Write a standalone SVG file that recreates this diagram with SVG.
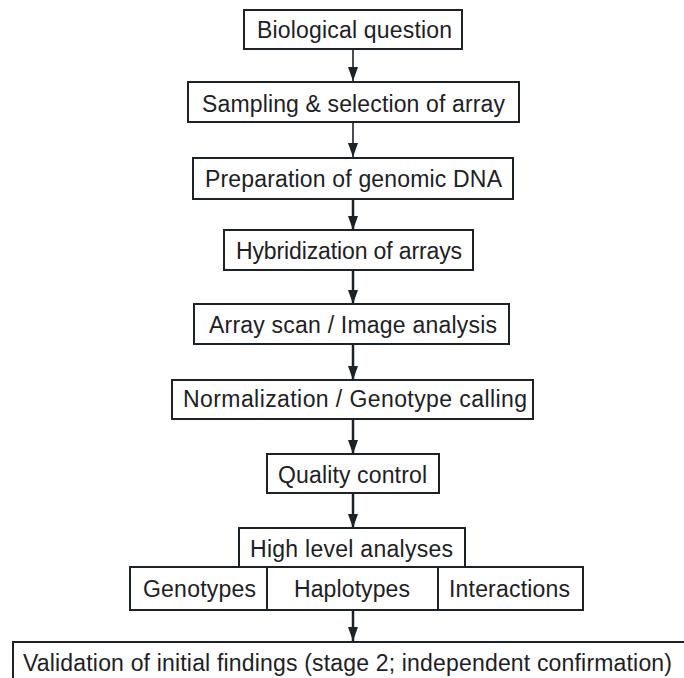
<svg xmlns="http://www.w3.org/2000/svg" width="684" height="678" viewBox="0 0 684 678">
<defs>
<style>
.box{fill:#fff;stroke:#1d2227;stroke-width:2}
.t{font-family:"Liberation Sans",Arial,Helvetica,sans-serif;font-size:23px;fill:#1d2125;text-anchor:middle}
.c{stroke:#1d2227;fill:none}
</style>
<marker id="ah" viewBox="0 0 14 10" refX="14" refY="5" markerUnits="userSpaceOnUse" markerWidth="14" markerHeight="10" orient="auto">
<path d="M0,0 L14,5 L0,10 Z" fill="#1d2227"/>
</marker>
</defs>
<rect width="684" height="678" fill="#fff"/>
<g id="connectors">
<line class="c" x1="353" y1="50" x2="353" y2="81" stroke-width="1.6" marker-end="url(#ah)"/>
<line class="c" x1="353" y1="123" x2="353" y2="157" stroke-width="1.6" marker-end="url(#ah)"/>
<line class="c" x1="353" y1="199" x2="353" y2="230" stroke-width="2.5" marker-end="url(#ah)"/>
<line class="c" x1="353" y1="270" x2="353" y2="304" stroke-width="2.5" marker-end="url(#ah)"/>
<line class="c" x1="353" y1="344" x2="353" y2="380" stroke-width="2.5" marker-end="url(#ah)"/>
<line class="c" x1="353" y1="419" x2="353" y2="454" stroke-width="2.5" marker-end="url(#ah)"/>
<line class="c" x1="353" y1="493" x2="353" y2="528" stroke-width="2.5" marker-end="url(#ah)"/>
<line class="c" x1="353" y1="610" x2="353" y2="641" stroke-width="2.5" marker-end="url(#ah)"/>
</g>
<g id="n1">
<rect class="box" x="244" y="10" width="218" height="39"/>
<text class="t" x="354.5" y="37.5" textLength="195" lengthAdjust="spacing">Biological question</text>
</g>
<g id="n2">
<rect class="box" x="188" y="82" width="331" height="40" stroke-width="2.5"/>
<text class="t" x="353.5" y="111.5" textLength="303" lengthAdjust="spacing">Sampling &amp; selection of array</text>
</g>
<g id="n3">
<rect class="box" x="193" y="158" width="320" height="41"/>
<text class="t" x="353.5" y="187" textLength="297" lengthAdjust="spacing">Preparation of genomic DNA</text>
</g>
<g id="n4">
<rect class="box" x="224" y="230" width="249" height="40"/>
<text class="t" x="349" y="259" textLength="226" lengthAdjust="spacing">Hybridization of arrays</text>
</g>
<g id="n5">
<rect class="box" x="194" y="304" width="315" height="40"/>
<text class="t" x="353" y="333" textLength="288" lengthAdjust="spacing">Array scan / Image analysis</text>
</g>
<g id="n6">
<rect class="box" x="172" y="380" width="361" height="39"/>
<text class="t" x="355" y="407" textLength="344" lengthAdjust="spacing">Normalization / Genotype calling</text>
</g>
<g id="n7">
<rect class="box" x="267" y="454" width="172" height="39"/>
<text class="t" x="352.5" y="482.5" textLength="149" lengthAdjust="spacing">Quality control</text>
</g>
<g id="n8">
<rect class="box" x="239" y="528" width="226" height="39"/>
<text class="t" x="351.5" y="557" textLength="203" lengthAdjust="spacing">High level analyses</text>
</g>
<g id="n9">
<rect class="box" x="130" y="567" width="137" height="43" stroke-width="2.5"/>
<text class="t" x="199.5" y="597" textLength="113" lengthAdjust="spacing">Genotypes</text>
</g>
<g id="n10">
<rect class="box" x="267" y="567" width="171" height="43" stroke-width="2.5"/>
<text class="t" x="352" y="597" textLength="116" lengthAdjust="spacing">Haplotypes</text>
</g>
<g id="n11">
<rect class="box" x="438" y="567" width="145" height="43" stroke-width="2.5"/>
<text class="t" x="509.5" y="597" textLength="121" lengthAdjust="spacing">Interactions</text>
</g>
<g id="n12">
<rect class="box" x="13" y="642" width="700" height="60" stroke-width="2.5"/>
<text class="t" x="347.5" y="670.5" textLength="649" lengthAdjust="spacing">Validation of initial findings (stage 2; independent confirmation)</text>
</g>
</svg>
